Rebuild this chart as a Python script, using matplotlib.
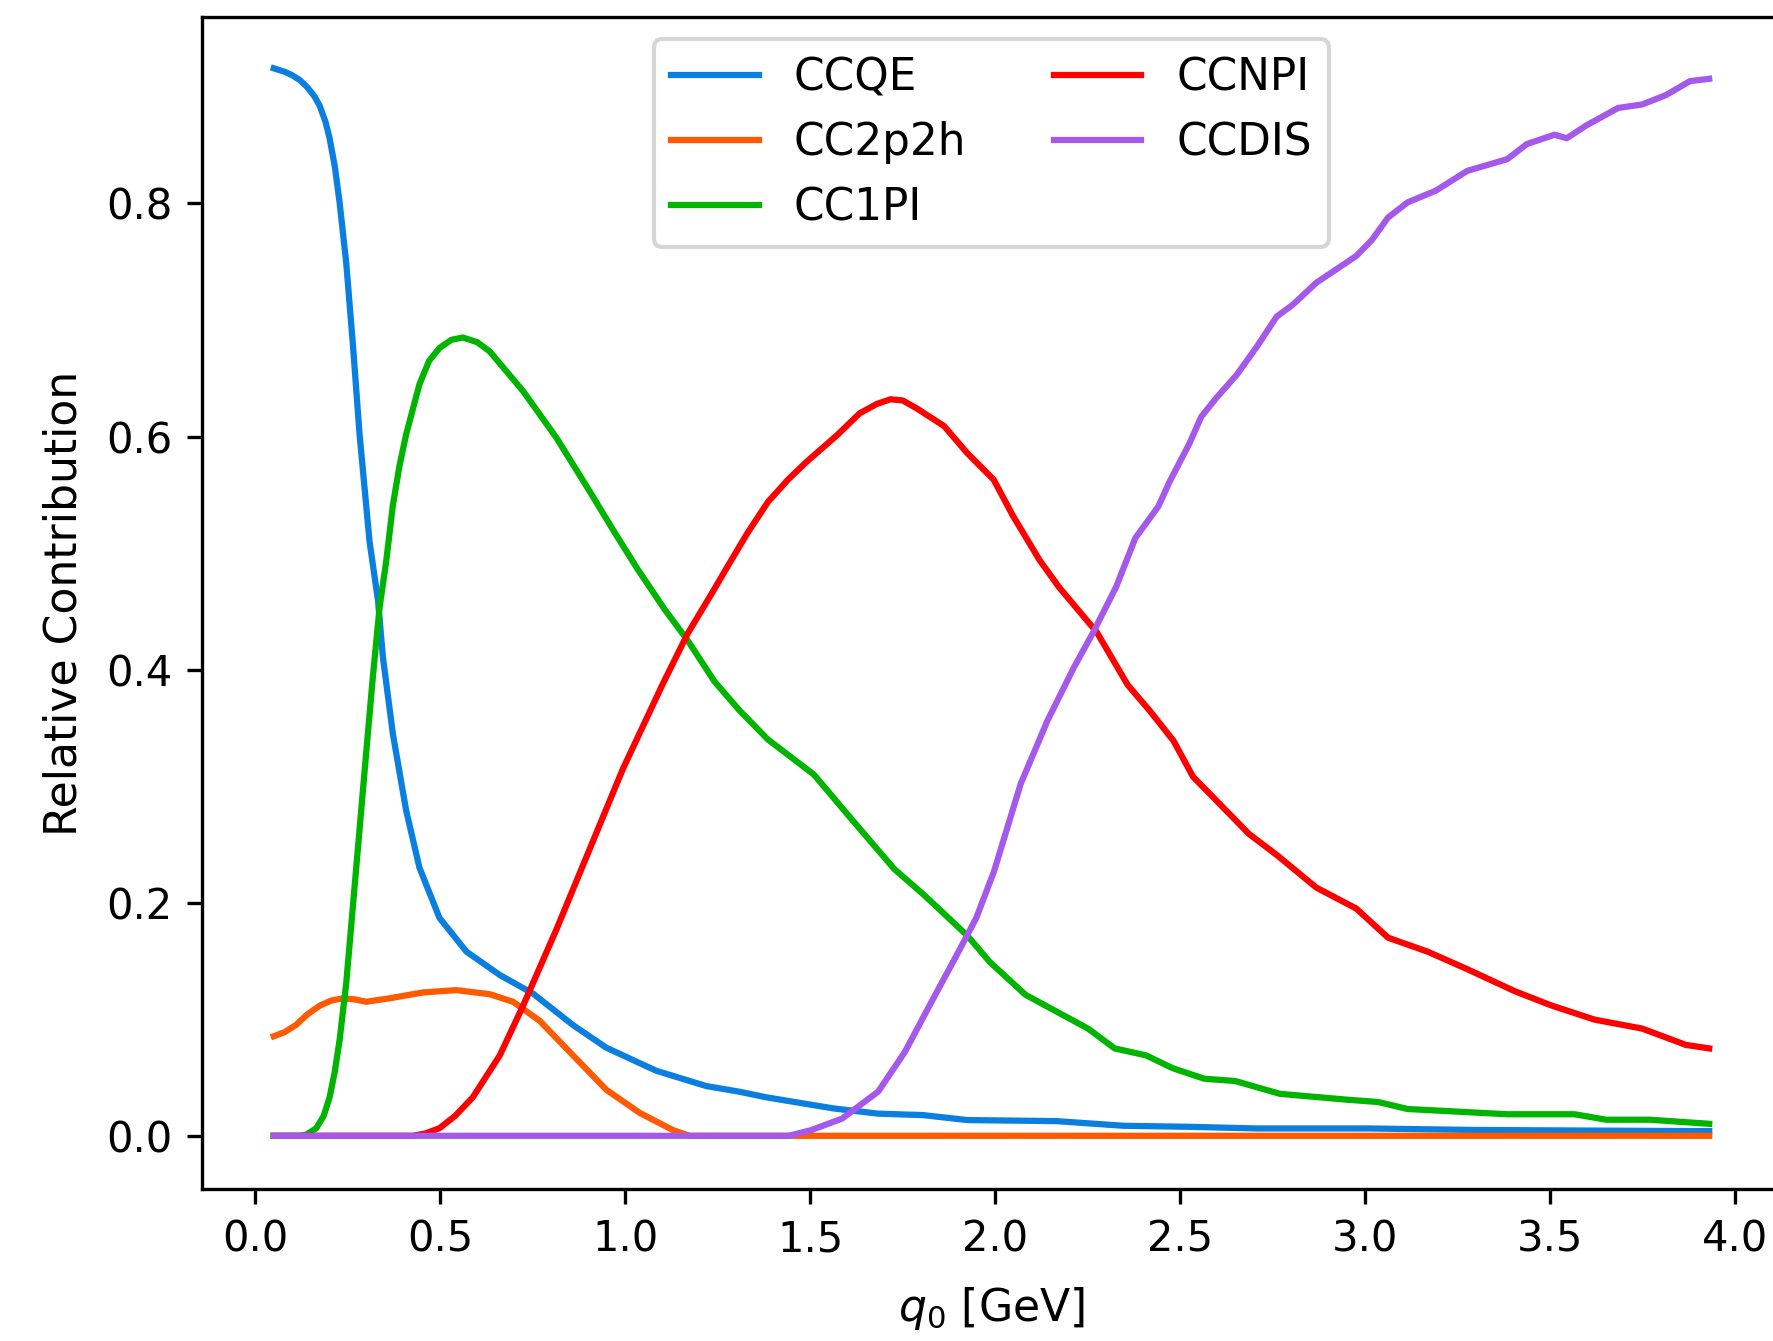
import numpy as np
import matplotlib
matplotlib.use("Agg")
import matplotlib.pyplot as plt

# ---- data ----
q_ccqe = [0.05, 0.08, 0.10, 0.12, 0.14, 0.16, 0.174, 0.19, 0.201, 0.215, 0.228, 0.246, 0.264,
          0.282, 0.309, 0.332, 0.345, 0.372, 0.408, 0.444, 0.498, 0.571, 0.661, 0.751, 0.859,
          0.949, 1.084, 1.219, 1.309, 1.382, 1.563, 1.684, 1.804, 1.925, 2.166, 2.347, 2.528,
          2.709, 3.01, 3.3, 3.6, 3.93]
v_ccqe = [0.916, 0.913, 0.910, 0.906, 0.900, 0.892, 0.884, 0.870, 0.856, 0.832, 0.801, 0.749,
          0.679, 0.602, 0.510, 0.459, 0.411, 0.345, 0.279, 0.230, 0.187, 0.158, 0.138, 0.122,
          0.095, 0.0756, 0.0558, 0.0427, 0.0378, 0.033, 0.0235, 0.019, 0.0178, 0.0135, 0.0126,
          0.0086, 0.0077, 0.0063, 0.0063, 0.005, 0.0045, 0.004]

q_2p2h = [0.05, 0.08, 0.111, 0.14, 0.174, 0.205, 0.237, 0.27, 0.300, 0.363, 0.453, 0.543,
          0.634, 0.697, 0.769, 0.859, 0.949, 1.039, 1.129, 1.174, 1.5, 2.0, 2.5, 3.0, 3.5, 3.93]
v_2p2h = [0.0854, 0.089, 0.0953, 0.104, 0.1116, 0.116, 0.118, 0.117, 0.115, 0.118, 0.123,
          0.125, 0.1215, 0.115, 0.0986, 0.069, 0.0395, 0.0197, 0.0049, 0.0, 0.0, 0.0, 0.0,
          0.0, 0.0, 0.0]

q_1pi = [0.05, 0.12, 0.138, 0.165, 0.185, 0.201, 0.215, 0.228, 0.246, 0.264, 0.282, 0.300,
         0.318, 0.336, 0.354, 0.372, 0.39, 0.408, 0.444, 0.47, 0.498, 0.53, 0.561, 0.60, 0.634,
         0.724, 0.814, 0.904, 0.967, 1.034, 1.106, 1.169, 1.241, 1.309, 1.386, 1.510, 1.603,
         1.727, 1.810, 1.924, 1.986, 2.082, 2.251, 2.323, 2.408, 2.480, 2.565, 2.649, 2.770,
         2.951, 3.035, 3.115, 3.384, 3.566, 3.652, 3.770, 3.93]
v_1pi = [0.0, 0.0, 0.001, 0.0065, 0.017, 0.033, 0.055, 0.082, 0.131, 0.197, 0.263, 0.329,
         0.394, 0.453, 0.493, 0.541, 0.575, 0.602, 0.645, 0.665, 0.676, 0.683, 0.685, 0.681,
         0.673, 0.639, 0.599, 0.553, 0.520, 0.486, 0.452, 0.425, 0.390, 0.365, 0.340, 0.310,
         0.275, 0.229, 0.206, 0.172, 0.149, 0.121, 0.092, 0.075, 0.069, 0.058, 0.049, 0.047,
         0.036, 0.031, 0.029, 0.023, 0.0185, 0.0185, 0.0138, 0.0138, 0.0103]

q_npi = [0.05, 0.426, 0.46, 0.498, 0.54, 0.588, 0.661, 0.724, 0.814, 0.904, 0.994, 1.102,
         1.169, 1.237, 1.272, 1.33, 1.386, 1.44, 1.489, 1.572, 1.634, 1.68, 1.717, 1.75, 1.789,
         1.862, 1.924, 1.996, 2.048, 2.120, 2.172, 2.275, 2.358, 2.417, 2.482, 2.535, 2.600,
         2.686, 2.761, 2.868, 2.976, 3.062, 3.169, 3.276, 3.405, 3.502, 3.620, 3.749, 3.867,
         3.93]
v_npi = [0.0, 0.0, 0.002, 0.0065, 0.017, 0.033, 0.069, 0.1116, 0.177, 0.246, 0.315, 0.388,
         0.431, 0.467, 0.486, 0.517, 0.544, 0.563, 0.578, 0.601, 0.620, 0.628, 0.632, 0.631,
         0.624, 0.609, 0.586, 0.563, 0.532, 0.494, 0.471, 0.432, 0.387, 0.365, 0.339, 0.308,
         0.287, 0.259, 0.241, 0.213, 0.195, 0.170, 0.158, 0.143, 0.124, 0.112, 0.0997, 0.092,
         0.078, 0.075]

q_dis = [0.05, 1.442, 1.503, 1.587, 1.684, 1.756, 1.828, 1.901, 1.949, 1.997, 2.069, 2.141,
         2.213, 2.265, 2.327, 2.379, 2.441, 2.471, 2.525, 2.557, 2.600, 2.653, 2.707, 2.761,
         2.804, 2.868, 2.976, 3.019, 3.062, 3.115, 3.191, 3.276, 3.384, 3.437, 3.512, 3.545,
         3.598, 3.684, 3.749, 3.813, 3.878, 3.93]
v_dis = [0.0, 0.0, 0.0049, 0.0149, 0.038, 0.072, 0.115, 0.158, 0.187, 0.227, 0.302, 0.356,
         0.402, 0.432, 0.471, 0.513, 0.540, 0.561, 0.594, 0.617, 0.634, 0.653, 0.677, 0.703,
         0.713, 0.732, 0.755, 0.769, 0.788, 0.801, 0.811, 0.828, 0.838, 0.851, 0.859, 0.856,
         0.867, 0.882, 0.885, 0.893, 0.905, 0.907]

labels = ["CCQE", "CC2p2h", "CC1PI", "CCNPI", "CCDIS"]
colors = ["#0a7fe0", "#ff5a00", "#00b400", "#ff0000", "#a459ea"]

series = [(q_ccqe, v_ccqe), (q_2p2h, v_2p2h), (q_1pi, v_1pi), (q_npi, v_npi), (q_dis, v_dis)]

fig = plt.figure(figsize=(1773 / 300, 1341 / 300), dpi=300)
ax = fig.add_axes([0.1139, 0.1133, 0.8906, 0.874])

for (qx, vy), lab, col in zip(series, labels, colors):
    ax.plot(qx, vy, color=col, label=lab, lw=1.5)

ax.set_xlim(-0.144, 4.124)
ax.set_ylim(-0.0457, 0.96)
ax.set_xticks(np.arange(0, 4.01, 0.5))
ax.set_yticks([0.0, 0.2, 0.4, 0.6, 0.8])
ax.set_xlabel(r"$q_0$ [GeV]", fontsize=10.6, labelpad=6)
ax.set_ylabel("Relative Contribution", fontsize=10.6, labelpad=5)
ax.legend(loc="upper center", ncol=2, fontsize=10.5)

fig.savefig("out.png", dpi=300)
